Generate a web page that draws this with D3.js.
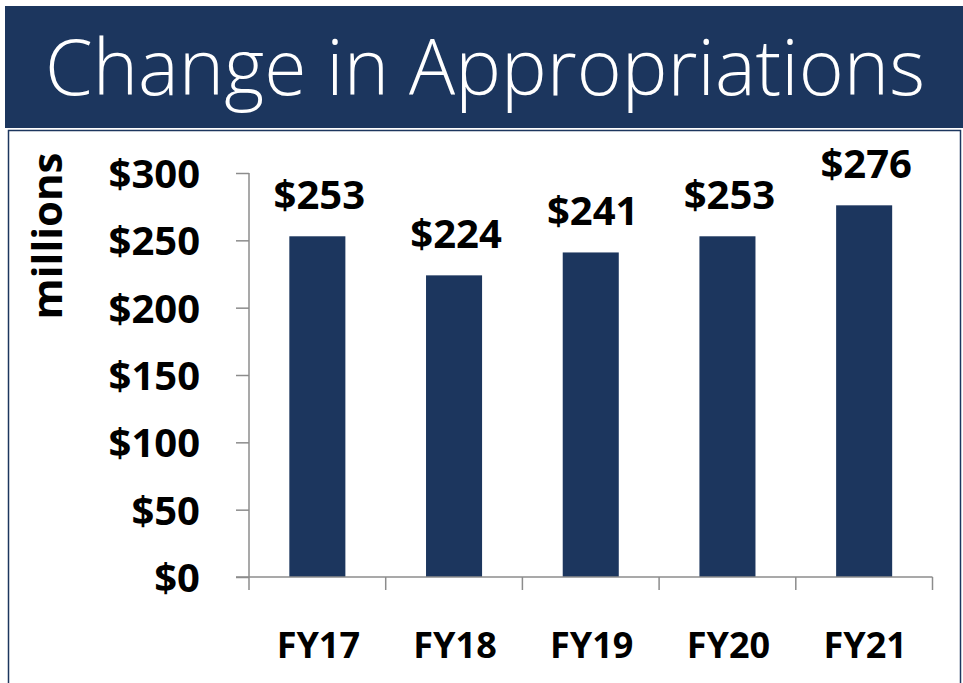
<!DOCTYPE html>
<html>
<meta charset="utf-8">
<style>
  body { margin: 0; background: #fff; }
  text { font-family: "Open Sans", sans-serif; }
</style>
<body>
<script src="https://d3js.org/d3.v7.min.js"></script>
<script>

// data
var years = ["FY17", "FY18", "FY19", "FY20", "FY21"];
var appropriations = [253, 224, 241, 253, 276];
var yTicks = [0, 50, 100, 150, 200, 250, 300];
var title = "Change in Appropriations";
var unitLabel = "millions";

var width = 963, height = 683;
var navy = "#1c365e";

var svg = d3.select("body")
  .append("svg")
  .attr("width", width)
  .attr("height", height);

// title banner
svg.append("rect")
  .attr("x", 5).attr("y", 6)
  .attr("width", width - 5).attr("height", 122)
  .style("fill", navy);

var titleText = svg.append("text")
  .attr("x", 485).attr("y", 95)
  .attr("text-anchor", "middle")
  .style("font-size", "78px")
  .style("font-weight", 300)
  .style("fill", "white")
  .text(title);
// squeeze to the banner width seen in the picture
var tl = titleText.node().getComputedTextLength();
if (tl > 880) titleText.attr("textLength", 880).attr("lengthAdjust", "spacingAndGlyphs");

// chart box
svg.append("rect")
  .attr("x", 8.5).attr("y", 130.5)
  .attr("width", 952).attr("height", 600)
  .style("fill", "none")
  .style("stroke", navy)
  .style("stroke-width", 1.5);

// scales
var x = d3.scaleBand()
  .domain(years)
  .range([249, 932.5])
  .paddingInner(0.59)
  .paddingOuter(0.295);

var y = d3.scaleLinear()
  .domain([0, 300])
  .range([577, 173]);

// bars
svg.append("g")
  .selectAll("rect")
  .data(appropriations)
  .enter().append("rect")
  .attr("x", function(d, i) { return x(years[i]); })
  .attr("y", function(d) { return y(d); })
  .attr("width", x.bandwidth())
  .attr("height", function(d) { return y(0) - y(d); })
  .style("fill", navy);

// value labels
svg.append("g")
  .selectAll("text")
  .data(appropriations)
  .enter().append("text")
  .attr("x", function(d, i) { return x(years[i]) + x.bandwidth() / 2 + 2; })
  .attr("y", function(d) { return y(d) - 27; })
  .attr("text-anchor", "middle")
  .style("font-size", "40px")
  .style("font-weight", 700)
  .style("fill", "black")
  .text(function(d) { return "$" + d; });

// y axis
var yAxis = svg.append("g")
  .attr("transform", "translate(249,0)")
  .call(d3.axisLeft(y).tickValues(yTicks).tickSize(13).tickPadding(36)
    .tickFormat(function(d) { return "$" + d; }));

// x axis with ticks between the categories
var xEdges = years.map(function(d) { return x(d) - x.step() * x.paddingInner() / 2; })
  .concat([x.range()[1]]);
var xAxis = svg.append("g")
  .attr("transform", "translate(0,577)");
xAxis.append("line")
  .attr("x1", 236).attr("x2", x.range()[1])
  .attr("y1", 0).attr("y2", 0);
xAxis.selectAll(".edge")
  .data(xEdges)
  .enter().append("line")
  .attr("class", "edge")
  .attr("x1", function(d) { return d; }).attr("x2", function(d) { return d; })
  .attr("y1", 0).attr("y2", 13);
xAxis.selectAll("text")
  .data(years)
  .enter().append("text")
  .attr("x", function(d) { return x(d) + x.bandwidth() / 2 + 1; })
  .attr("y", 81)
  .attr("text-anchor", "middle")
  .style("font-size", "36px")
  .style("font-weight", 700)
  .style("fill", "black")
  .text(function(d) { return d; });

svg.selectAll(".domain").style("stroke", "#8c8c8c").style("stroke-width", 1.5);
yAxis.selectAll(".tick line").style("stroke", "#8c8c8c").style("stroke-width", 1.5);
xAxis.selectAll("line").style("stroke", "#8c8c8c").style("stroke-width", 1.5);
yAxis.select(".domain").attr("d", "M0,173V577");
yAxis.selectAll(".tick text")
  .style("font-size", "40px")
  .style("font-weight", 700)
  .style("fill", "black")
  .attr("dy", "0.36em");

// unit label
svg.append("text")
  .attr("transform", "translate(62,236) rotate(-90)")
  .attr("text-anchor", "middle")
  .style("font-size", "42px")
  .style("font-weight", 700)
  .style("fill", "black")
  .text(unitLabel);

</script>
</body>
</html>
